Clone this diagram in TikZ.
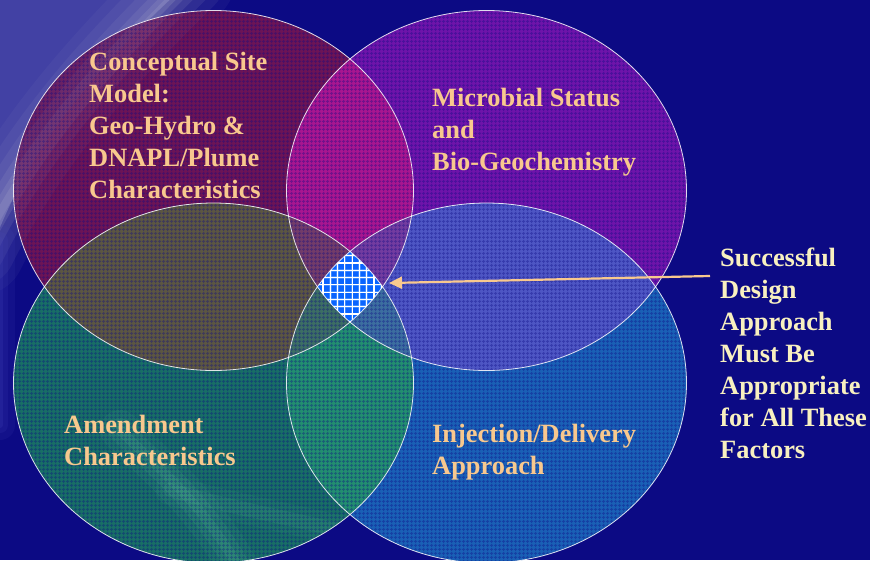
\documentclass[tikz,border=0pt]{standalone}
\usepackage{fontspec}
\setmainfont{Liberation Serif}
\usetikzlibrary{arrows.meta,patterns.meta}

\definecolor{navy}{RGB}{12,10,132}
\definecolor{cornerblue}{RGB}{72,72,168}
\definecolor{swoosh}{RGB}{175,175,205}
\definecolor{leftglow}{RGB}{70,70,185}
\definecolor{greenglow}{RGB}{120,220,170}
% region colours
\definecolor{cTL}{RGB}{108,20,86}
\definecolor{cTR}{RGB}{110,20,170}
\definecolor{cBL}{RGB}{24,110,102}
\definecolor{cBR}{RGB}{26,96,182}
\definecolor{cTLTR}{RGB}{168,22,144}
\definecolor{cTLBL}{RGB}{92,86,66}
\definecolor{cTRBR}{RGB}{78,86,196}
\definecolor{cBLBR}{RGB}{34,142,112}
\definecolor{cTLBR}{RGB}{80,70,140}
\definecolor{cTRBL}{RGB}{70,80,130}
\definecolor{cTLTRBL}{RGB}{115,60,105}
\definecolor{cTLTRBR}{RGB}{115,60,160}
\definecolor{cTLBLBR}{RGB}{60,110,100}
\definecolor{cTRBLBR}{RGB}{60,110,160}
\definecolor{coreblue}{RGB}{10,100,255}
\definecolor{coreglow}{RGB}{120,180,255}
\definecolor{peach}{RGB}{248,200,142}
\definecolor{cream}{RGB}{248,240,192}

% the four factor ellipses
\newcommand\ellTL{(213.5,190.5) ellipse [x radius=200pt, y radius=180pt]}
\newcommand\ellTR{(486.5,190.5) ellipse [x radius=200pt, y radius=180pt]}
\newcommand\ellBL{(213.5,383) ellipse [x radius=200pt, y radius=180pt]}
\newcommand\ellBR{(486.5,383) ellipse [x radius=200pt, y radius=180pt]}
\newcommand\whole{(0,0) rectangle (870,560)}
\newcommand\streak{(190,-20) .. controls (120,50) and (40,130) .. (-20,250)}

\tikzset{
  lbl/.style={text=peach, inner sep=0pt, anchor=base west,
    font=\fontsize{26.4}{32}\selectfont\bfseries},
  goaltext/.style={text=cream, inner sep=0pt, anchor=base west,
    font=\fontsize{26.4}{32}\selectfont\bfseries},
  rim/.style={draw=white, line width=0.8pt, draw opacity=0.85},
  pointer/.style={draw=peach, line width=2.2pt,
    -{Triangle[length=13pt,width=12pt]}}
}

\begin{document}
\begin{tikzpicture}[x=1pt,y=-1pt]
\useasboundingbox \whole;

% background with soft light streaks
\fill[navy] \whole;
\begin{scope}
  \clip \whole;
  % lighter corner to the left of the streak
  \fill[cornerblue, fill opacity=0.9]
    (0,-5) -- (175,-5) .. controls (110,55) and (35,135) .. (-5,240) -- cycle;
  \foreach \w/\o in {90/0.06,70/0.08,50/0.1,32/0.13,18/0.16,8/0.2}
    \draw[draw=swoosh, line width=\w pt, draw opacity=\o, line cap=round]
      \streak;
  \foreach \w/\o in {30/0.12,16/0.15,6/0.2}
    \draw[draw=leftglow, line width=\w pt, draw opacity=\o, line cap=round]
      (0,240) -- (0,425);
\end{scope}

% single regions
\fill[cTL] \ellTL;
\fill[cTR] \ellTR;
\fill[cBL] \ellBL;
\fill[cBR] \ellBR;
% pairwise overlaps
\begin{scope}\clip \ellTL; \fill[cTLTR] \ellTR; \end{scope}
\begin{scope}\clip \ellTL; \fill[cTLBL] \ellBL; \end{scope}
\begin{scope}\clip \ellTR; \fill[cTRBR] \ellBR; \end{scope}
\begin{scope}\clip \ellBL; \fill[cBLBR] \ellBR; \end{scope}
\begin{scope}\clip \ellTL; \fill[cTLBR] \ellBR; \end{scope}
\begin{scope}\clip \ellTR; \fill[cTRBL] \ellBL; \end{scope}
% triple overlaps
\begin{scope}\clip \ellTL; \clip \ellTR; \fill[cTLTRBL] \ellBL; \end{scope}
\begin{scope}\clip \ellTL; \clip \ellTR; \fill[cTLTRBR] \ellBR; \end{scope}
\begin{scope}\clip \ellTL; \clip \ellBL; \fill[cTLBLBR] \ellBR; \end{scope}
\begin{scope}\clip \ellTR; \clip \ellBL; \fill[cTRBLBR] \ellBR; \end{scope}

% faint streaks showing through the ellipses
\begin{scope}
  \clip \ellTL;
  \fill[cornerblue, fill opacity=0.12]
    (0,-5) -- (175,-5) .. controls (110,55) and (35,135) .. (-5,240) -- cycle;
  \foreach \w/\o in {70/0.05,40/0.07,20/0.09}
    \draw[draw=swoosh, line width=\w pt, draw opacity=\o, line cap=round]
      \streak;
\end{scope}
\begin{scope}
  \clip \ellBL;
  \foreach \w/\o in {40/0.06,24/0.08,10/0.1}
    \draw[draw=greenglow, line width=\w pt, draw opacity=\o, line cap=round]
      (120,430) .. controls (160,470) and (200,500) .. (240,570);
  \foreach \w/\o in {30/0.05,14/0.08}
    \draw[draw=greenglow, line width=\w pt, draw opacity=\o, line cap=round]
      (170,490) .. controls (240,510) and (300,520) .. (380,540);
\end{scope}

% screen texture over the ellipses
\fill[pattern={Hatch[distance=4pt, angle=0, line width=1.1pt]},
      pattern color=navy, fill opacity=0.35]
  \ellTL \ellTR \ellBL \ellBR;

% shared core of all four factors
\begin{scope}
  \clip \ellTL; \clip \ellTR; \clip \ellBL; \clip \ellBR;
  \fill[coreblue] (300,240) rectangle (400,330);
  \foreach \k in {0,...,14} {
    \draw[coreglow, line width=2.6pt, opacity=0.45]
      ({301+7.3*\k},240) -- ++(0,90);
    \draw[coreglow, line width=2.6pt, opacity=0.45]
      (300,{241+7.3*\k}) -- ++(100,0);
  }
  \foreach \k in {0,...,14} {
    \draw[white, line width=1.2pt] ({301+7.3*\k},240) -- ++(0,90);
    \draw[white, line width=1.2pt] (300,{241+7.3*\k}) -- ++(100,0);
  }
\end{scope}

% outlines
\draw[rim] \ellTL;
\draw[rim] \ellTR;
\draw[rim] \ellBL;
\draw[rim] \ellBR;

% labels
\node[lbl] (site) at (89,70) {\begin{tabular}[t]{@{}l@{}}Conceptual Site\\Model:\\Geo-Hydro \&\\DNAPL/Plume\\Characteristics\end{tabular}};
\node[lbl] (microbial) at (432,106) {\begin{tabular}[t]{@{}l@{}}Microbial Status\\and\\Bio-Geochemistry\end{tabular}};
\node[lbl] (amendment) at (64,433) {\begin{tabular}[t]{@{}l@{}}Amendment\\Characteristics\end{tabular}};
\node[lbl] (injection) at (432,442) {\begin{tabular}[t]{@{}l@{}}Injection/Delivery\\Approach\end{tabular}};
\node[goaltext] (goal) at (720,266) {\begin{tabular}[t]{@{}l@{}}Successful\\Design\\Approach\\Must Be\\Appropriate\\for All These\\Factors\end{tabular}};

% pointer to the shared core
\coordinate (tail) at (710,276);
\coordinate (core) at (389,283);
\draw[pointer] (tail) -- (core);
\end{tikzpicture}
\end{document}
